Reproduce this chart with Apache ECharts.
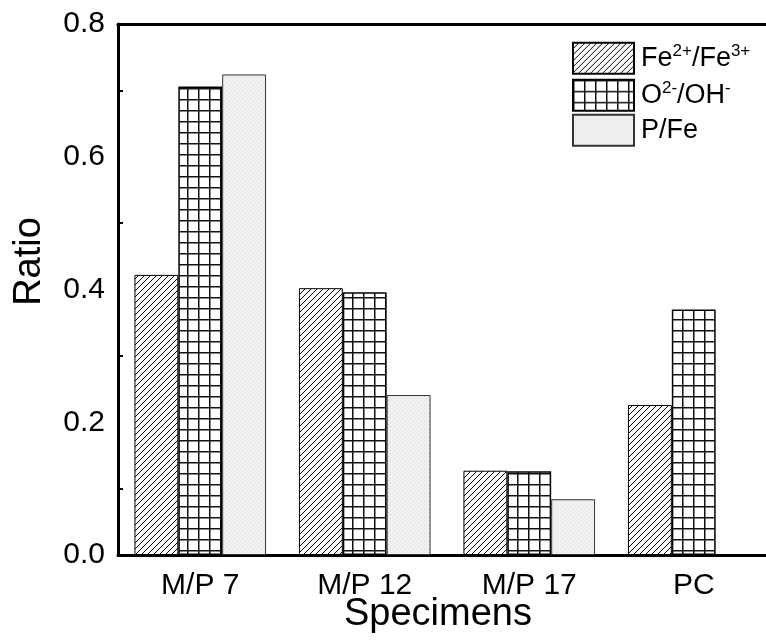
<!DOCTYPE html>
<html>
<head>
  <title>Ratio by specimen</title>
  <script src="https://cdn.jsdelivr.net/npm/echarts@6/dist/echarts.min.js"></script>
  <style>
    html, body { margin: 0; padding: 0; background: #fff; }
  </style>
</head>
<body>
  <div id="main" style="width: 766px; height: 641px;"></div>

  <script>
    // data
    var categories = ['M/P 7', 'M/P 12', 'M/P 17', 'PC'];
    var seriesNames = ['Fe2+/Fe3+', 'O2-/OH-', 'P/Fe'];
    var feRatio = [0.422, 0.402, 0.127, 0.226];
    var oRatio = [0.706, 0.396, 0.126, 0.370];
    var pRatio = [0.724, 0.241, 0.084, null];
    var yTicks = [0, 0.2, 0.4, 0.6, 0.8];

    var FONT = 'Arial, "Liberation Sans", sans-serif';

    // pattern tiles
    function makeTile(w, h, draw) {
      var c = document.createElement('canvas');
      c.width = w; c.height = h;
      draw(c.getContext('2d'), w, h);
      return c;
    }
    var hatch = makeTile(6, 6, function (ctx, w, h) {
      ctx.fillStyle = '#fff';
      ctx.fillRect(0, 0, w, h);
      ctx.strokeStyle = '#000';
      ctx.lineWidth = 1;
      ctx.beginPath();
      ctx.moveTo(-1, h + 1); ctx.lineTo(w + 1, -1);
      ctx.moveTo(-1, 1); ctx.lineTo(1, -1);
      ctx.moveTo(w - 1, h + 1); ctx.lineTo(w + 1, h - 1);
      ctx.stroke();
    });
    var grid = makeTile(11, 11, function (ctx, w, h) {
      ctx.fillStyle = '#fff';
      ctx.fillRect(0, 0, w, h);
      ctx.fillStyle = '#111';
      ctx.fillRect(0, 0, w, 1.5);
      ctx.fillRect(0, 0, 1.5, h);
    });
    var dots = makeTile(4, 4, function (ctx, w, h) {
      ctx.fillStyle = '#f1f1f1';
      ctx.fillRect(0, 0, w, h);
      ctx.fillStyle = '#d9d9d9';
      ctx.fillRect(0, 0, 1, 1);
      ctx.fillRect(2, 2, 1, 1);
    });

    var chart = echarts.init(document.getElementById('main'));

    // superscripts in the legend via rich text
    var legendText = {
      'Fe2+/Fe3+': '{n|Fe}{s|2+}{n|/Fe}{s|3+}',
      'O2-/OH-': '{n|O}{s|2-}{n|/OH}{s|-}',
      'P/Fe': '{n|P/Fe}'
    };
    var legendTops = [35, 72, 107];

    var legends = seriesNames.map(function (name, i) {
      return {
        orient: 'vertical',
        left: 572, top: legendTops[i],
        padding: 0,
        icon: 'rect',
        itemWidth: 61, itemHeight: 31,
        data: [name],
        formatter: function (n) { return legendText[n]; },
        textStyle: {
          padding: [0, 0, 0, 2],
          rich: {
            n: { fontFamily: FONT, fontSize: 27, color: '#000', lineHeight: 31 },
            s: { fontFamily: FONT, fontSize: 17, color: '#000', lineHeight: 17, padding: [0, 0, 14, 0] }
          }
        }
      };
    });

    var option = {
      backgroundColor: '#fff',
      animation: false,
      grid: {
        left: 118, top: 24, right: -10, bottom: 86,
        outerBoundsMode: 'none',
        containLabel: false
      },
      legend: legends,
      xAxis: [{
        type: 'category',
        data: categories,
        name: 'Specimens',
        nameLocation: 'middle',
        nameGap: 27,
        nameMoveOverlap: false,
        nameTextStyle: { fontFamily: FONT, fontSize: 38, color: '#000', padding: [0, 18, 0, 0] },
        axisLine: { lineStyle: { color: '#000', width: 3 } },
        axisTick: { alignWithLabel: true, inside: true, length: 9, lineStyle: { color: '#000', width: 3 } },
        axisLabel: { fontFamily: FONT, fontSize: 30, color: '#000', margin: 5 }
      }, {
        type: 'category',
        data: categories,
        position: 'bottom',
        axisLine: { show: false },
        axisTick: { inside: true, length: 4, lineStyle: { color: '#000', width: 2 } },
        axisLabel: { show: false }
      }, {
        // plain line along the top of the plot
        type: 'category',
        data: categories,
        position: 'top',
        axisLine: { lineStyle: { color: '#000', width: 3 } },
        axisTick: { show: false },
        axisLabel: { show: false }
      }],
      yAxis: {
        type: 'value',
        min: 0, max: 0.8, interval: 0.2,
        name: 'Ratio',
        nameLocation: 'middle',
        nameGap: 56,
        nameMoveOverlap: false,
        nameTextStyle: { fontFamily: FONT, fontSize: 38, color: '#000', padding: [0, 0, 0, 56] },
        splitLine: { show: false },
        axisLine: { show: true, lineStyle: { color: '#000', width: 3 } },
        axisTick: { inside: true, length: 8, lineStyle: { color: '#000', width: 3 } },
        minorTick: { show: true, splitNumber: 2, length: 5, lineStyle: { color: '#000', width: 2 } },
        axisLabel: {
          fontFamily: FONT, fontSize: 30, color: '#000', margin: 13,
          formatter: function (v) { return yTicks.indexOf(v) >= 0 ? v.toFixed(1) : ''; }
        }
      },
      series: [{
        name: seriesNames[0],
        type: 'bar',
        data: feRatio,
        barGap: '0%',
        barCategoryGap: '20%',
        itemStyle: { color: { image: hatch, repeat: 'repeat' }, borderColor: '#000', borderWidth: 1 }
      }, {
        name: seriesNames[1],
        type: 'bar',
        data: oRatio,
        itemStyle: { color: { image: grid, repeat: 'repeat' }, borderColor: '#000', borderWidth: 1.5 }
      }, {
        name: seriesNames[2],
        type: 'bar',
        data: pRatio,
        itemStyle: { color: { image: dots, repeat: 'repeat' }, borderColor: '#333', borderWidth: 1 }
      }]
    };

    chart.setOption(option);
  </script>
</body>
</html>
